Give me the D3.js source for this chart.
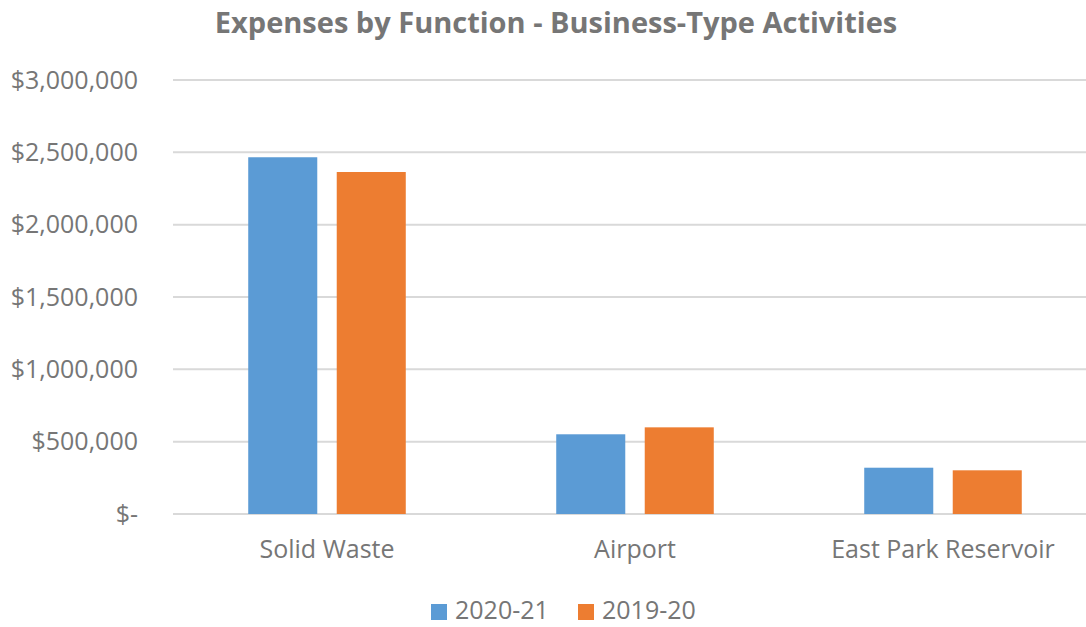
<!DOCTYPE html>
<html>
<head>
<meta charset="utf-8">
<script src="https://cdn.jsdelivr.net/npm/d3@7"></script>
<style>
  body { margin: 0; background: #fff; }
</style>
</head>
<body>
<div id="chart"></div>
<script>
// DATA
var categories = ["Solid Waste", "Airport", "East Park Reservoir"];
var seriesNames = ["2020-21", "2019-20"];
var values2021 = [2466000, 551000, 320000];
var values1920 = [2364000, 599000, 302000];
var yTicks = [0, 500000, 1000000, 1500000, 2000000, 2500000, 3000000];

// COLORS and FONTS
var fontFamily = "'Open Sans', Arial, sans-serif";
var textColor = "#767676";
var gridColor = "#d9d9d9";
var colors = ["#5b9bd5", "#ed7d31"];
var labelSize = 25;
var width = 1086;
var height = 627;

var svg = d3.select("#chart").append("svg")
  .attr("width", width)
  .attr("height", height);

var plot = {"left": 173, "right": 1097, "top": 80, "bottom": 514};

var rows = categories.map(function(c, i) {
  return {"category": c, "values": [values2021[i], values1920[i]]};
});

var x0 = d3.scaleBand()
  .domain(categories)
  .range([plot.left, plot.right])
  .padding(0);

var x1 = d3.scaleBand()
  .domain(seriesNames)
  .range([0, x0.bandwidth()])
  .paddingInner(0.22)
  .paddingOuter(0.85);

var y = d3.scaleLinear()
  .domain([0, 3000000])
  .range([plot.bottom, plot.top]);

// title
svg.append("text")
  .attr("x", 556)
  .attr("y", 33)
  .attr("text-anchor", "middle")
  .attr("font-family", fontFamily)
  .attr("font-weight", "bold")
  .attr("font-size", 29)
  .attr("fill", textColor)
  .text("Expenses by Function - Business-Type Activities");

// gridlines
svg.append("g")
  .selectAll("line")
  .data(yTicks)
  .enter().append("line")
  .attr("x1", plot.left)
  .attr("x2", width)
  .attr("y1", function(d) { return y(d); })
  .attr("y2", function(d) { return y(d); })
  .attr("stroke", gridColor)
  .attr("stroke-width", 2);

// y axis labels
var yAxis = d3.axisLeft(y)
  .tickValues(yTicks)
  .tickSize(0)
  .tickPadding(35)
  .tickFormat(function(d) { return d === 0 ? "$-" : "$" + d3.format(",")(d); });

var yg = svg.append("g")
  .attr("transform", `translate(${plot.left},0)`)
  .call(yAxis);
yg.select(".domain").remove();
yg.selectAll("text")
  .attr("font-family", fontFamily)
  .attr("font-size", labelSize)
  .attr("fill", textColor);

// bars
var groups = svg.append("g")
  .selectAll("g")
  .data(rows)
  .enter().append("g")
  .attr("transform", function(d) { return `translate(${x0(d.category)},0)`; });

groups.selectAll("rect")
  .data(function(d) {
    return d.values.map(function(v, i) { return {"series": seriesNames[i], "value": v, "i": i}; });
  })
  .enter().append("rect")
  .attr("x", function(d) { return x1(d.series); })
  .attr("width", x1.bandwidth())
  .attr("y", function(d) { return y(d.value); })
  .attr("height", function(d) { return y(0) - y(d.value); })
  .attr("fill", function(d) { return colors[d.i]; });

// x axis labels
var xAxis = d3.axisBottom(x0).tickSize(0).tickPadding(26);
var xg = svg.append("g")
  .attr("transform", `translate(0,${plot.bottom})`)
  .call(xAxis);
xg.select(".domain").remove();
xg.selectAll("text")
  .attr("font-family", fontFamily)
  .attr("font-size", labelSize)
  .attr("fill", textColor);

// legend
var legendX = [431, 578];
var legend = svg.append("g")
  .selectAll("g")
  .data(seriesNames)
  .enter().append("g")
  .attr("transform", function(d, i) { return `translate(${legendX[i]},604)`; });

legend.append("rect")
  .attr("width", 16)
  .attr("height", 16)
  .attr("fill", function(d, i) { return colors[i]; });

legend.append("text")
  .attr("x", 24)
  .attr("y", 15)
  .attr("font-family", fontFamily)
  .attr("font-size", labelSize)
  .attr("fill", textColor)
  .text(function(d) { return d; });
</script>
</body>
</html>
